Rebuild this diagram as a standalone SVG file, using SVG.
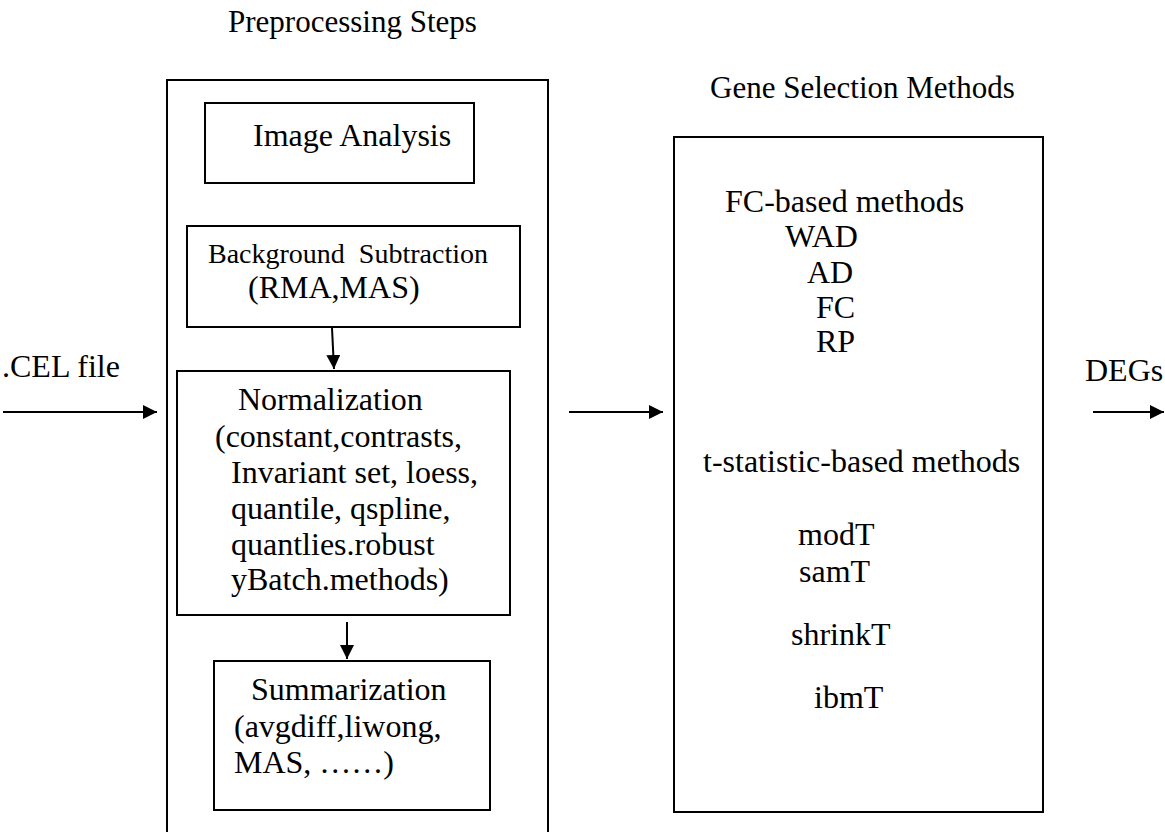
<svg xmlns="http://www.w3.org/2000/svg" width="1165" height="832" viewBox="0 0 1165 832">
<defs>
<style>
.box{fill:none;stroke:#000;stroke-width:2}
.ln{stroke:#000;stroke-width:2;fill:none}
</style>
<marker id="ah" viewBox="0 0 14 14" refX="14" refY="7" markerWidth="14" markerHeight="14" markerUnits="userSpaceOnUse" orient="auto">
<path d="M0,0 L14,7 L0,14 Z" fill="#000"/>
</marker>
</defs>
<rect width="1165" height="832" fill="#fff"/>
<g id="headings">
<text x="228" y="32" font-family="Liberation Serif" font-size="31">Preprocessing Steps</text>
<text x="710" y="98" font-family="Liberation Serif" font-size="31">Gene Selection Methods</text>
</g>
<g id="preprocessing">
<rect class="box" x="167" y="80" width="381" height="770"/>
</g>
<g id="image-analysis">
<rect class="box" x="205" y="103" width="269" height="80"/>
<text x="253" y="146" font-family="Liberation Serif" font-size="32">Image Analysis</text>
</g>
<g id="background">
<rect class="box" x="187" y="226" width="333" height="101"/>
<text x="208" y="263" xml:space="preserve" font-family="Liberation Serif" font-size="28">Background  Subtraction</text>
<text x="248" y="298" font-family="Liberation Serif" font-size="32">(RMA,MAS)</text>
</g>
<g id="normalization">
<rect class="box" x="177" y="371" width="333" height="244"/>
<text x="238" y="410" font-family="Liberation Serif" font-size="32">Normalization</text>
<text x="215" y="447" font-family="Liberation Serif" font-size="32">(constant,contrasts,</text>
<text x="231" y="483" font-family="Liberation Serif" font-size="32">Invariant set, loess,</text>
<text x="231" y="519" font-family="Liberation Serif" font-size="32">quantile, qspline,</text>
<text x="231" y="555" font-family="Liberation Serif" font-size="32">quantlies.robust</text>
<text x="231" y="590" font-family="Liberation Serif" font-size="32">yBatch.methods)</text>
</g>
<g id="summarization">
<rect class="box" x="214" y="661" width="276" height="149"/>
<text x="251" y="700" font-family="Liberation Serif" font-size="32">Summarization</text>
<text x="234" y="737" font-family="Liberation Serif" font-size="32">(avgdiff,liwong,</text>
<text x="234" y="773" font-family="Liberation Serif" font-size="32">MAS, ……)</text>
</g>
<g id="gene-selection">
<rect class="box" x="674" y="137" width="369" height="675"/>
<text x="725" y="212" font-family="Liberation Serif" font-size="32">FC-based methods</text>
<text x="785" y="247" font-family="Liberation Serif" font-size="32">WAD</text>
<text x="807" y="283" font-family="Liberation Serif" font-size="32">AD</text>
<text x="816" y="318" font-family="Liberation Serif" font-size="32">FC</text>
<text x="816" y="352" font-family="Liberation Serif" font-size="32">RP</text>
<text x="703" y="472" font-family="Liberation Serif" font-size="32">t-statistic-based methods</text>
<text x="798" y="545" font-family="Liberation Serif" font-size="32">modT</text>
<text x="799" y="582" font-family="Liberation Serif" font-size="32">samT</text>
<text x="791" y="645" font-family="Liberation Serif" font-size="32">shrinkT</text>
<text x="814" y="708" font-family="Liberation Serif" font-size="32">ibmT</text>
</g>
<g id="input">
<text x="2" y="377" font-family="Liberation Serif" font-size="32">.CEL file</text>
</g>
<g id="output">
<text x="1085" y="381" font-family="Liberation Serif" font-size="32">DEGs</text>
</g>
<g id="connectors">
<line class="ln" x1="3" y1="412" x2="157" y2="412" marker-end="url(#ah)"/>
<line class="ln" x1="332" y1="328" x2="334" y2="369" marker-end="url(#ah)"/>
<line class="ln" x1="347" y1="622" x2="347" y2="659" marker-end="url(#ah)"/>
<line class="ln" x1="569" y1="412" x2="663" y2="412" marker-end="url(#ah)"/>
<line class="ln" x1="1093" y1="412" x2="1164" y2="412" marker-end="url(#ah)"/>
</g>
</svg>
